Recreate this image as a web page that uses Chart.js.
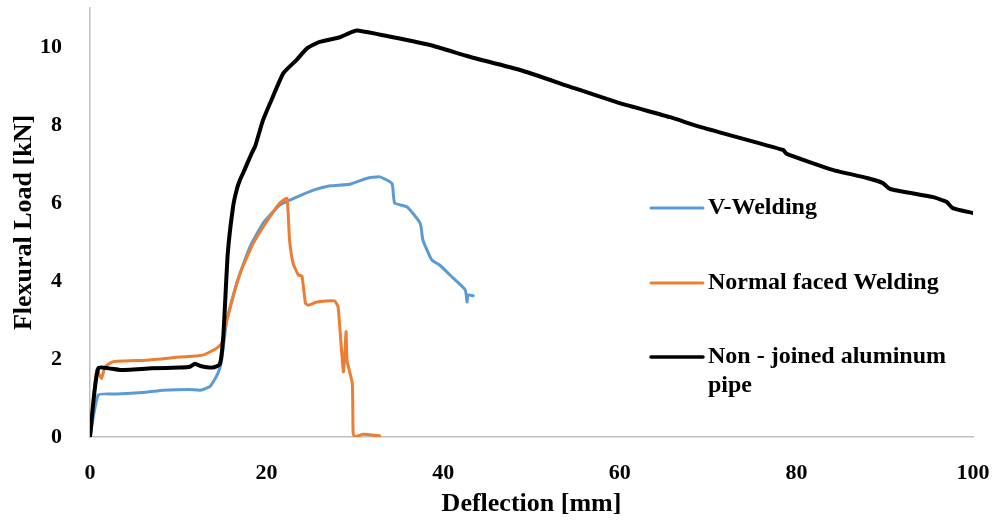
<!DOCTYPE html>
<html>
<head>
<meta charset="utf-8">
<script src="https://cdn.jsdelivr.net/npm/chart.js@4"></script>
<style>
  html, body { margin: 0; padding: 0; background: #fff; }
  #wrap { width: 1000px; height: 523px; }
</style>
</head>
<body>
<div id="wrap"><canvas id="myChart"></canvas></div>
<script>
// values: deflection [mm] vs load [kN]
const vWeldX = [0, 0.94, 3, 6.4, 8.3, 11.3, 12.5, 13.6, 14.5, 14.9, 15.5, 16.6, 18.1, 19.6, 21.5, 23.4, 25.3, 27.2, 29.4, 31.3, 32.8, 34.2, 34.5, 35.9, 37.4, 37.7, 38.7, 39.6, 41.1, 42.5, 42.7, 42.8, 43.4];
const vWeldY = [0, 1.08, 1.1, 1.15, 1.2, 1.22, 1.2, 1.3, 1.64, 1.97, 3.0, 3.93, 4.87, 5.48, 5.95, 6.15, 6.33, 6.44, 6.48, 6.63, 6.67, 6.5, 6.0, 5.9, 5.48, 5.05, 4.54, 4.41, 4.08, 3.77, 3.46, 3.64, 3.62];

const normalX = [0, 0.75, 1.3, 1.7, 2.6, 6.4, 10.2, 12.8, 14.3, 14.9, 15.5, 17.0, 18.5, 20.0, 21.5, 22.3, 22.6, 23.0, 23.6, 24.0, 24.4, 24.7, 25.7, 27.7, 28.1, 28.7, 29.0, 29.1, 29.7, 29.8, 30.0, 30.9, 32.8];
const normalY = [0, 1.72, 1.5, 1.8, 1.93, 1.97, 2.05, 2.1, 2.27, 2.4, 3.0, 4.2, 4.97, 5.52, 6.0, 6.12, 5.05, 4.46, 4.15, 4.13, 3.43, 3.38, 3.46, 3.49, 3.33, 1.67, 2.7, 1.97, 1.38, 0.1, 0, 0.07, 0.03];

const alumX = [0, 0.94, 3.4, 7, 10.2, 11.3, 11.9, 12.5, 13.9, 14.7, 15.1, 15.6, 16.2, 16.6, 17.0, 17.5, 18.3, 18.7, 19.6, 20.7, 21.9, 23.4, 24.6, 26.0, 28.3, 29.1, 30.2, 33.2, 38.5, 43.0, 48.7, 54.4, 60.0, 65.7, 69.1, 78.5, 78.9, 84.1, 88.0, 89.8, 90.6, 95.5, 97.0, 97.7, 100];
const alumY = [0, 1.76, 1.72, 1.76, 1.78, 1.8, 1.88, 1.82, 1.78, 1.86, 2.6, 4.7, 5.9, 6.33, 6.6, 6.85, 7.27, 7.45, 8.13, 8.72, 9.33, 9.67, 9.97, 10.13, 10.25, 10.33, 10.42, 10.3, 10.05, 9.75, 9.41, 8.98, 8.56, 8.2, 7.95, 7.36, 7.26, 6.85, 6.64, 6.51, 6.36, 6.15, 6.03, 5.87, 5.74];

const seriesNames = ['V-Welding', 'Normal faced Welding', ['Non - joined aluminum', 'pipe']];
const seriesColors = ['#5B9BD5', '#ED7D31', '#000000'];

const xTicks = [0, 20, 40, 60, 80, 100];
const yTicks = [0, 2, 4, 6, 8, 10];

function toPoints(xs, ys) {
    return xs.map((x, i) => ({ x: x, y: ys[i] }));
}

const serif = "'Liberation Serif', 'Times New Roman', serif";

// legend sits inside the plot on the right, drawn by hand
const sideLegend = {
    id: 'sideLegend',
    afterDraw(chart) {
        const c = chart.ctx;
        const rows = [208, 283, 357];
        c.save();
        c.font = 'bold 24px ' + serif;
        c.textBaseline = 'middle';
        c.textAlign = 'left';
        rows.forEach((y, i) => {
            c.strokeStyle = seriesColors[i];
            c.lineWidth = i === 2 ? 3.5 : 3;
            c.lineCap = 'round';
            c.beginPath();
            c.moveTo(651, y);
            c.lineTo(703, y);
            c.stroke();
            c.fillStyle = '#000';
            const lines = Array.isArray(seriesNames[i]) ? seriesNames[i] : [seriesNames[i]];
            lines.forEach((t, j) => c.fillText(t, 708, y + j * 29));
        });
        c.restore();
    }
};

const ctx = document.getElementById('myChart').getContext('2d');
const myChart = new Chart(ctx, {
    type: 'scatter',
    data: {
        datasets: [{
            label: 'V-Welding',
            data: toPoints(vWeldX, vWeldY),
            borderColor: seriesColors[0],
            borderWidth: 3,
            order: 3
        }, {
            label: 'Normal faced Welding',
            data: toPoints(normalX, normalY),
            borderColor: seriesColors[1],
            borderWidth: 3,
            order: 2
        }, {
            label: 'Non - joined aluminum pipe',
            data: toPoints(alumX, alumY),
            borderColor: seriesColors[2],
            borderWidth: 4,
            order: 1
        }]
    },
    options: {
        responsive: true,
        maintainAspectRatio: false,
        animation: false,
        layout: { padding: { top: 8, right: 27, left: 0, bottom: 0 } },
        elements: {
            point: { radius: 0 },
            line: { tension: 0.15, borderJoinStyle: 'round', borderCapStyle: 'round', fill: false }
        },
        datasets: { scatter: { showLine: true } },
        plugins: {
            legend: { display: false },
            tooltip: { enabled: false }
        },
        scales: {
            x: {
                type: 'linear',
                min: 0,
                max: 100,
                afterFit: s => { s.height = 86; s.paddingLeft = 0; s.paddingRight = 0; },
                afterBuildTicks: s => { s.ticks = xTicks.map(v => ({ value: v })); },
                grid: { display: false },
                border: { display: true, color: '#bfbfbf', width: 1.5 },
                ticks: { padding: 15, color: '#000', font: { family: serif, size: 22, weight: 'bold' } },
                title: {
                    display: true,
                    text: 'Deflection [mm]',
                    color: '#000',
                    padding: { top: 0, bottom: 3 },
                    font: { family: serif, size: 26, weight: 'bold' }
                }
            },
            y: {
                type: 'linear',
                min: 0,
                max: 11,
                afterFit: s => { s.width = 90; s.paddingTop = 0; s.paddingBottom = 0; },
                afterBuildTicks: s => { s.ticks = yTicks.map(v => ({ value: v })); },
                grid: { display: false },
                border: { display: true, color: '#bfbfbf', width: 1.5 },
                ticks: { padding: 20, color: '#000', font: { family: serif, size: 22, weight: 'bold' } },
                title: {
                    display: true,
                    text: 'Flexural Load [kN]',
                    color: '#000',
                    padding: { top: 9, bottom: 0 },
                    font: { family: serif, size: 26, weight: 'bold' }
                }
            }
        }
    },
    plugins: [sideLegend]
});
</script>
</body>
</html>
